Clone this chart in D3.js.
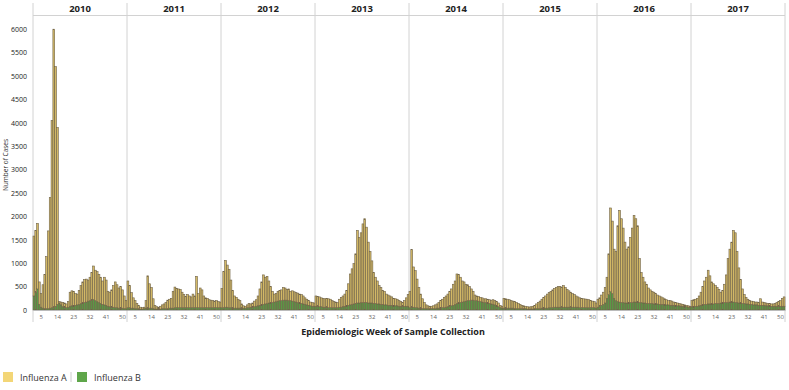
<!DOCTYPE html>
<html lang="en">
<head>
<meta charset="UTF-8">
<title>Influenza A / B by epidemiologic week</title>
<script src="https://cdn.jsdelivr.net/npm/d3@7"></script>
<style>
  body { margin: 0; background: #fff; }
  text { font-family: "Open Sans", "DejaVu Sans", sans-serif; }
</style>
</head>
<body>
<svg></svg>
<script>
const width = 789, height = 390

const years = [2010, 2011, 2012, 2013, 2014, 2015, 2016, 2017]
const weeks = d3.range(1, 53)
const weekTicks = [5, 14, 23, 32, 41, 50]
const yTicks = d3.range(0, 6001, 500)
const seriesNames = ['Influenza A', 'Influenza B']

// Influenza A cases per week, one row per year
const fluA = [
  [1280,1320,1400,480,290,500,730,1110,1660,2360, 4000,5940,5120,3780,30,60,90,90,80,120, 300,320,310,250,230,300,380,450,490,490, 450,500,590,720,650,640,600,560,500,590, 540,320,310,370,460,550,490,430,460,390, 270,170],
  [570,470,330,220,170,110,70,40,30,30, 160,690,520,440,210,80,50,40,60,80, 100,130,180,190,210,360,440,410,400,390, 330,280,240,280,250,230,290,250,670,300, 420,380,250,210,200,170,160,150,140,150, 130,120],
  [410,770,1000,900,820,590,380,260,230,190, 160,90,50,40,60,90,70,90,120,140, 210,350,490,630,570,580,470,350,240,170, 170,210,220,230,270,260,230,250,200,220, 210,200,200,190,190,170,140,120,100,80, 80,70],
  [220,210,210,190,190,180,190,190,180,150, 130,120,110,170,210,230,260,330,460,660, 760,860,1060,1550,1400,1490,1680,1790,1610,1300, 1100,900,660,560,490,390,360,300,290,230, 220,200,180,160,150,140,120,100,80,120, 180,250],
  [350,1230,860,790,610,440,300,210,130,80, 60,50,50,60,80,90,120,160,180,220, 240,270,320,360,450,500,630,610,540,450, 420,360,340,300,240,190,120,100,100,90, 90,80,80,80,80,80,100,90,90,80, 50,40],
  [210,200,190,180,160,150,150,130,110,90, 70,60,50,50,45,50,60,70,100,130, 160,190,230,260,300,320,350,380,400,420, 440,440,430,460,420,380,350,320,290,270, 240,220,210,200,190,185,180,170,150,140, 130,110],
  [170,180,220,260,330,450,870,1790,1550,1050, 1050,1620,1960,1790,1590,1300,1150,1200,1390,1590, 1850,1780,1630,940,640,550,450,410,330,290, 260,250,220,190,180,160,140,130,110,90, 100,90,70,70,60,50,50,40,40,30, 30,20],
  [130,150,150,170,210,280,390,500,580,720, 600,470,430,380,340,300,230,270,390,590, 940,1130,1280,1530,1490,1090,750,500,310,190, 140,100,80,70,70,60,60,60,140,70, 60,60,50,50,50,50,60,80,100,120, 170,200]
]

// Influenza B cases per week, one row per year
const fluB = [
  [300,380,450,120,60,40,30,30,30,40, 50,60,80,120,150,110,70,60,50,60, 80,90,90,100,110,120,140,150,160,170, 190,200,210,220,200,180,160,140,120,110, 100,80,70,60,60,50,50,40,40,40, 30,30],
  [50,50,40,40,30,30,30,20,20,30, 40,40,40,40,30,20,20,20,20,30, 30,30,30,40,40,40,50,50,50,50, 50,50,50,50,50,50,50,50,50,50, 50,50,50,50,50,50,50,50,50,50, 50,50],
  [50,50,60,60,50,50,40,40,40,40, 40,40,40,40,50,50,60,60,70,80, 90,100,110,120,130,140,150,150,160,170, 180,190,200,200,210,210,210,200,200,190, 180,170,160,150,140,130,120,110,100,90, 80,80],
  [80,80,70,70,60,60,60,50,50,50, 50,50,50,60,60,70,80,90,100,110, 120,130,140,150,150,160,160,160,160,150, 150,150,140,140,130,130,120,120,110,110, 100,100,100,90,90,90,80,80,80,80, 80,80],
  [50,60,60,50,50,40,40,30,30,30, 30,30,30,30,30,40,40,40,50,50, 60,70,80,90,100,120,140,150,160,170, 180,190,200,200,210,210,200,200,190,180, 170,160,160,150,140,130,120,110,90,70, 50,40],
  [40,40,40,40,40,40,30,30,30,30, 30,30,30,20,20,20,20,30,30,30, 30,40,40,40,40,50,50,50,60,60, 60,60,60,60,60,60,60,60,60,60, 60,60,50,50,50,50,50,50,50,50, 50,40],
  [60,80,100,120,150,250,330,390,350,250, 200,180,170,160,160,150,150,150,160,160, 170,170,170,160,160,150,150,140,140,140, 140,130,130,130,120,120,120,110,110,110, 100,100,100,90,90,90,80,80,70,70, 60,60],
  [70,70,80,80,90,100,110,120,120,130, 130,130,130,140,140,140,150,150,160,160, 160,170,170,170,160,160,150,150,140,140, 130,130,120,120,110,110,110,100,100,100, 100,90,90,90,80,80,80,80,80,80, 80,80]
]

const colorA = '#d3b966', colorB = '#5a9a45'
const legendA = '#f3d677', legendB = '#5fa64a'

const svg = d3.select('svg')
    .attr('width', width)
    .attr('height', height)

const x = d3.scaleBand().domain(years).range([33, 785])
const xw = d3.scaleBand().domain(weeks).range([0, x.bandwidth()])
const y = d3.scaleLinear().domain([0, 6000]).range([310, 29.2])

const stack = d3.stack().keys(['b', 'a'])

// panel dividers and header
svg.append('g')
  .selectAll('line')
  .data(years.concat(['end']))
  .join('line')
    .attr('x1', d => d === 'end' ? 785 : x(d))
    .attr('x2', d => d === 'end' ? 785 : x(d))
    .attr('y1', 3)
    .attr('y2', 322)
    .attr('stroke', '#d2d2d2')
    .attr('stroke-width', 1)

svg.append('line')
    .attr('x1', 33).attr('x2', 785)
    .attr('y1', 15.5).attr('y2', 15.5)
    .attr('stroke', '#d2d2d2')

svg.append('g')
  .selectAll('text')
  .data(years)
  .join('text')
    .attr('x', d => x(d) + x.bandwidth() / 2)
    .attr('y', 12)
    .attr('text-anchor', 'middle')
    .attr('font-size', 9.5)
    .attr('font-weight', 'bold')
    .attr('fill', '#222')
    .text(d => d)

// bars for each year panel
years.forEach((year, i) => {
  const rows = weeks.map((w, j) => ({week: w, a: fluA[i][j], b: fluB[i][j]}))
  const layers = stack(rows)
  const g = svg.append('g').attr('transform', `translate(${x(year)},0)`)

  g.selectAll('g')
    .data(layers)
    .join('g')
      .attr('fill', d => d.key === 'a' ? colorA : colorB)
    .selectAll('rect')
    .data(d => d)
    .join('rect')
      .attr('x', d => xw(d.data.week))
      .attr('y', d => y(d[1]))
      .attr('width', xw.bandwidth())
      .attr('height', d => y(d[0]) - y(d[1]))
      .attr('stroke', '#6f6248')
      .attr('stroke-width', 0.6)

  const ax = g.append('g')
      .attr('transform', 'translate(0,310)')
      .call(d3.axisBottom(xw).tickValues(weekTicks).tickSize(0).tickPadding(5))
  ax.select('.domain').attr('stroke', '#bbb')
  ax.selectAll('text')
      .attr('font-size', 6)
      .attr('fill', '#666')
      .attr('font-family', '"Open Sans", sans-serif')
})

// y axis
const yAxis = svg.append('g')
    .attr('transform', 'translate(29,0)')
    .call(d3.axisLeft(y).tickValues(yTicks).tickSize(0).tickPadding(2).tickFormat(d3.format('d')))
yAxis.select('.domain').remove()
yAxis.selectAll('text')
    .attr('font-size', 7)
    .attr('fill', '#222')
    .attr('font-family', '"Open Sans", sans-serif')

svg.append('text')
    .attr('transform', 'translate(8,165) rotate(-90)')
    .attr('text-anchor', 'middle')
    .attr('font-size', 6.5)
    .attr('fill', '#333')
    .text('Number of Cases')

svg.append('text')
    .attr('x', 393)
    .attr('y', 335)
    .attr('text-anchor', 'middle')
    .attr('font-size', 9)
    .attr('font-weight', 'bold')
    .attr('fill', '#222')
    .text('Epidemiologic Week of Sample Collection')

// legend
const legend = svg.append('g').attr('transform', 'translate(3,372)')
const items = legend.selectAll('g')
  .data(seriesNames)
  .join('g')
    .attr('transform', (d, i) => `translate(${i * 74},0)`)
items.append('rect')
    .attr('width', 10).attr('height', 10)
    .attr('fill', (d, i) => i === 0 ? legendA : legendB)
items.append('text')
    .attr('x', 17).attr('y', 8.5)
    .attr('font-size', 9)
    .attr('fill', '#333')
    .attr('font-family', '"Liberation Sans", Arial, sans-serif')
    .text(d => d)
legend.append('line')
    .attr('x1', 68).attr('x2', 68)
    .attr('y1', 0).attr('y2', 10)
    .attr('stroke', '#ccc')
</script>
</body>
</html>
